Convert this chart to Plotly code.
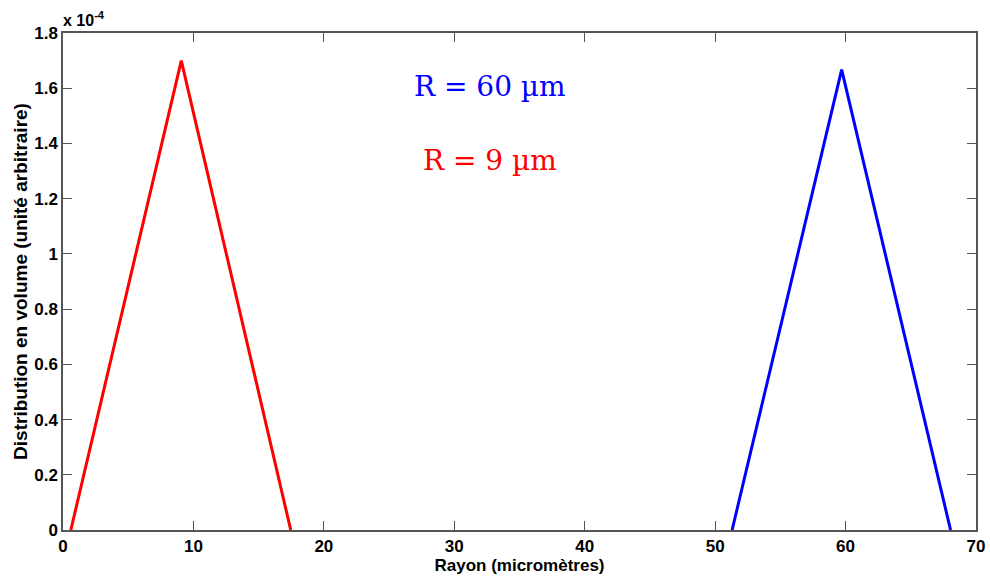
import plotly.graph_objects as go

# Data (volume distribution in units of 1e-4)
red_x = [0.6, 9.07, 17.46]
red_y = [0.0, 1.70, 0.0]
blue_x = [51.3, 59.7, 68.05]
blue_y = [0.0, 1.667, 0.0]

x_ticks = [0, 10, 20, 30, 40, 50, 60, 70]
x_tick_labels = ["0", "10", "20", "30", "40", "50", "60", "70"]
y_ticks = [0, 0.2, 0.4, 0.6, 0.8, 1.0, 1.2, 1.4, 1.6, 1.8]
y_tick_labels = ["0", "0.2", "0.4", "0.6", "0.8", "1", "1.2", "1.4", "1.6", "1.8"]

L, R, T, B = 63, 14, 33, 48
W, H = 990, 578

fig = go.Figure()
fig.add_trace(go.Scatter(x=blue_x, y=blue_y, mode="lines",
                         line=dict(color="#0000ff", width=3), showlegend=False))
fig.add_trace(go.Scatter(x=red_x, y=red_y, mode="lines",
                         line=dict(color="#ff0000", width=3), showlegend=False))

SANS = "Liberation Sans, Arial, sans-serif"
axis_font = dict(family=SANS, size=17, color="black")
fig.update_layout(
    width=W, height=H,
    margin=dict(l=L, r=R, t=T, b=B, autoexpand=False),
    paper_bgcolor="white", plot_bgcolor="white",
    xaxis=dict(range=[0, 70], tickvals=x_ticks,
               ticktext=["<b>%s</b>" % t for t in x_tick_labels],
               ticks="inside", ticklen=9, tickcolor="#555", showline=True,
               linecolor="#555", linewidth=1.5, mirror="ticks", showgrid=False,
               zeroline=False, tickfont=axis_font, automargin=False,
               ticklabelstandoff=0,
               title=dict(text="<b>Rayon (micromètres)</b>", standoff=2,
                          font=dict(family=SANS, size=17, color="black"))),
    yaxis=dict(range=[0, 1.8], tickvals=y_ticks,
               ticktext=["<b>%s</b>" % t for t in y_tick_labels],
               ticks="inside", ticklen=9, tickcolor="#555", showline=True,
               linecolor="#555", linewidth=1.5, mirror="ticks", showgrid=False,
               zeroline=False, tickfont=axis_font, automargin=False,
               ticklabelstandoff=0,
               title=dict(text="<b>Distribution en volume (unité arbitraire)</b>", standoff=2,
                          font=dict(family=SANS, size=19, color="black"))),
    font=dict(family=SANS, color="black"),
)

fig.add_annotation(x=0, y=1, xref="paper", yref="paper", xanchor="left", yanchor="bottom",
                   text="<b>x 10<sup>-4</sup></b>", showarrow=False, yshift=2, xshift=-2,
                   font=dict(family=SANS, size=16, color="black"))


def paper(px, py):
    return (px - L) / (W - L - R), 1 - (py - T) / (H - T - B)


ax, ay = paper(490, 86)
fig.add_annotation(x=ax, y=ay, xref="paper", yref="paper", xanchor="center", yanchor="middle",
                   showarrow=False, text="R = 60 µm",
                   font=dict(family="DejaVu Serif, Liberation Serif, serif", size=28, color="#0000ff"))
ax, ay = paper(490, 160)
fig.add_annotation(x=ax, y=ay, xref="paper", yref="paper", xanchor="center", yanchor="middle",
                   showarrow=False, text="R = 9 µm",
                   font=dict(family="DejaVu Serif, Liberation Serif, serif", size=28, color="#ff0000"))

fig.write_html("out.html")
